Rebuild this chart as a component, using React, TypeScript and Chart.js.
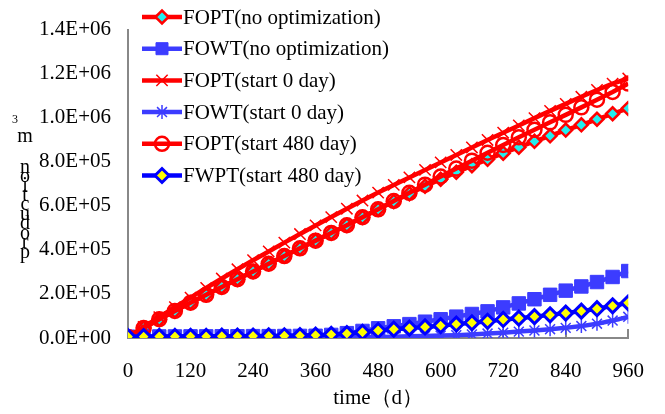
import React, { useEffect, useRef } from 'react';
import { Chart, registerables } from 'chart.js';
import { drawPoint } from 'chart.js/helpers';

Chart.register(...registerables);

// ---------- data ----------
const days = [0, 30, 60, 90, 120, 150, 180, 210, 240, 270, 300, 330, 360, 390, 420, 450, 480, 510, 540, 570, 600, 630, 660, 690, 720, 750, 780, 810, 840, 870, 900, 930, 960];

const foptNoOpt = [5000, 45000, 85000, 123000, 160000, 196000, 232000, 267000, 302000, 337000, 372000, 407000, 442000, 477000, 512000, 548000, 584000, 620000, 655000, 689000, 721000, 752000, 782000, 811000, 839000, 866000, 893000, 918000, 944000, 968000, 993000, 1018000, 1042000];
const fowtNoOpt = [6000, 6500, 7000, 7000, 7500, 7500, 8000, 8000, 8500, 8500, 9000, 9500, 10000, 14000, 22000, 32000, 44000, 53000, 63000, 74000, 85000, 97000, 109000, 121000, 139000, 157000, 176000, 196000, 215000, 234000, 254000, 277000, 304000];
const foptStart0 = [5000, 50000, 95000, 140000, 183000, 227000, 270000, 312000, 353000, 393000, 433000, 472000, 511000, 549000, 587000, 624000, 660000, 695000, 729000, 763000, 797000, 831000, 865000, 899000, 932000, 965000, 998000, 1031000, 1063000, 1095000, 1126000, 1155000, 1178000];
const fowtStart0 = [3000, 3000, 3000, 3000, 3000, 3000, 3000, 3000, 3000, 3000, 3000, 3000, 3000, 3000, 3500, 4000, 5000, 6000, 7500, 9000, 11000, 13000, 16000, 20000, 24000, 29000, 34000, 40000, 46000, 54000, 65000, 79000, 96000];
const foptStart480 = [5000, 45000, 85000, 123000, 160000, 196000, 232000, 267000, 302000, 337000, 372000, 407000, 442000, 477000, 512000, 548000, 584000, 622000, 659000, 696000, 733000, 769000, 805000, 841000, 876000, 911000, 945000, 979000, 1013000, 1047000, 1082000, 1117000, 1155000];
const fwptStart480 = [6000, 6500, 7000, 7000, 7500, 7500, 8000, 8500, 9000, 9500, 10000, 11000, 13000, 16000, 20000, 26000, 34000, 40000, 45000, 50000, 56000, 63000, 69000, 76000, 84000, 90000, 97000, 105000, 113000, 122000, 133000, 146000, 160000];

const seriesNames = ['FOPT(no optimization)', 'FOWT(no optimization)', 'FOPT(start 0 day)', 'FOWT(start 0 day)', 'FOPT(start 480 day)', 'FWPT(start 480 day)'];
const xTickValues = [0, 120, 240, 360, 480, 600, 720, 840, 960];
const yTickLabels = ['0.0E+00', '2.0E+05', '4.0E+05', '6.0E+05', '8.0E+05', '1.0E+06', '1.2E+06', '1.4E+06'];
const xAxisTitle = 'time（d）';
const yAxisTitle = 'production';
const yAxisUnit = 'm';
const yAxisSup = '3';

const FONT = '"Liberation Serif", "Times New Roman", serif';
const FS = 21;

const styles = [
  { line: '#FF0000', bg: '#22EEEE', border: '#FF0000', pointStyle: 'rectRot', radius: 6.5, bw: 2.5 },
  { line: '#3C3CFF', bg: '#3C3CFF', border: '#3C3CFF', pointStyle: 'rect', radius: 9.5, bw: 1 },
  { line: '#FF0000', bg: '#FF0000', border: '#FF0000', pointStyle: 'crossRot', radius: 8, bw: 1.5 },
  { line: '#3C3CFF', bg: '#3C3CFF', border: '#3C3CFF', pointStyle: 'star', radius: 7, bw: 1.5 },
  { line: '#FF0000', bg: 'rgba(0,0,0,0)', border: '#FF0000', pointStyle: 'circle', radius: 7, bw: 2.5 },
  { line: '#0000FF', bg: '#FFFF00', border: '#0000FF', pointStyle: 'rectRot', radius: 7, bw: 3 },
];

const seriesValues = [foptNoOpt, fowtNoOpt, foptStart0, fowtStart0, foptStart480, fwptStart480];

const extrasPlugin = {
  id: 'extras',
  beforeDatasetsDraw(chart: any) {
    const { ctx, chartArea, scales } = chart;
    ctx.save();
    ctx.strokeStyle = '#888888';
    ctx.lineWidth = 2;
    xTickValues.forEach((v) => {
      const px = Math.round(scales.x.getPixelForValue(v));
      ctx.beginPath();
      ctx.moveTo(px, chartArea.bottom);
      ctx.lineTo(px, chartArea.bottom - 9);
      ctx.stroke();
    });
    ctx.restore();
  },
  afterDraw(chart: any) {
    const { ctx } = chart;
    ctx.save();
    // legend
    seriesNames.forEach((name, i) => {
      const st = styles[i];
      const y = 17 + i * 31.7;
      ctx.strokeStyle = st.line;
      ctx.lineWidth = 4.5;
      ctx.lineCap = 'butt';
      ctx.beginPath();
      ctx.moveTo(142, y);
      ctx.lineTo(182, y);
      ctx.stroke();
      ctx.fillStyle = st.bg;
      ctx.strokeStyle = st.border;
      ctx.lineWidth = st.bw;
      const r = st.pointStyle === 'rect' ? 8.5 : st.radius;
      drawPoint(ctx, { pointStyle: st.pointStyle, radius: r, rotation: 0, borderWidth: st.bw } as any, 162, y);
      ctx.fillStyle = '#000';
      ctx.font = `${FS}px ${FONT}`;
      ctx.textAlign = 'left';
      ctx.textBaseline = 'middle';
      ctx.fillText(name, 183, y + 1);
    });
    // y axis title (stacked upright characters)
    ctx.fillStyle = '#000';
    ctx.textAlign = 'center';
    ctx.textBaseline = 'alphabetic';
    ctx.font = `20px ${FONT}`;
    const chars = yAxisTitle.split('');
    for (let k = 0; k < chars.length; k++) {
      const ch = chars[chars.length - 1 - k];
      ctx.fillText(ch, 25, 172.6 + k * 9.44);
    }
    ctx.fillText(yAxisUnit, 25, 142);
    ctx.font = `12px ${FONT}`;
    ctx.fillText(yAxisSup, 15, 123);
    ctx.restore();
  },
};

export default function App() {
  const ref = useRef<HTMLCanvasElement | null>(null);
  useEffect(() => {
    if (!ref.current) return;
    const datasets = seriesNames.map((name, i) => ({
      label: name,
      data: days.map((d, j) => ({ x: d, y: seriesValues[i][j] })),
      borderColor: styles[i].line,
      borderWidth: 4.5,
      pointStyle: styles[i].pointStyle,
      pointRadius: styles[i].radius,
      pointBackgroundColor: styles[i].bg,
      pointBorderColor: styles[i].border,
      pointBorderWidth: styles[i].bw,
      fill: false,
      tension: 0,
      order: 6 - i,
    }));
    const chart = new Chart(ref.current, {
      type: 'line',
      data: { datasets } as any,
      plugins: [extrasPlugin as any],
      options: {
        responsive: false,
        animation: false,
        layout: { padding: { left: 0, right: 34, top: 15, bottom: 0 } },
        plugins: { legend: { display: false }, tooltip: { enabled: false } },
        scales: {
          x: {
            type: 'linear',
            min: 0,
            max: 960,
            afterBuildTicks: (s: any) => { s.ticks = xTickValues.map((v) => ({ value: v })); },
            ticks: { padding: 21, color: '#000', font: { family: FONT, size: FS }, maxRotation: 0, autoSkip: false },
            grid: { display: true, drawOnChartArea: false, drawTicks: false },
            border: { display: true, color: '#888888', width: 2 },
            title: { display: true, text: xAxisTitle, color: '#000', font: { family: FONT, size: FS }, padding: { top: 0, bottom: 3 } },
            afterFit: (s: any) => { s.height = 76; },
          },
          y: {
            type: 'linear',
            min: 0,
            max: 1400000,
            ticks: { stepSize: 200000, padding: 17, color: '#000', font: { family: FONT, size: FS }, callback: (_v: any, i: number) => yTickLabels[i] },
            grid: { display: true, drawOnChartArea: false, drawTicks: false },
            border: { display: true, color: '#888888', width: 2 },
            afterFit: (s: any) => { s.width = 128; },
          },
        },
      } as any,
    });
    return () => chart.destroy();
  }, []);
  return (
    <div style={{ position: 'absolute', left: 0, top: 0, width: 665, height: 414, background: '#fff' }}>
      <canvas ref={ref} width={665} height={414} style={{ width: 665, height: 414 }} />
    </div>
  );
}
